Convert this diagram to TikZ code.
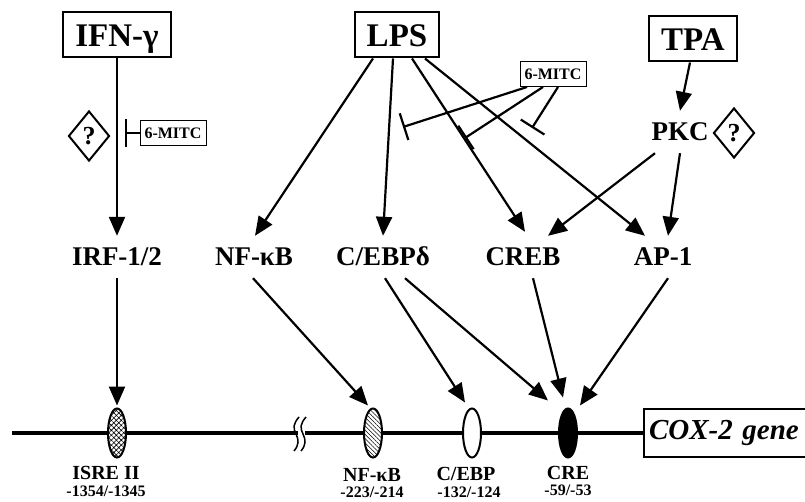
\documentclass[tikz,border=0pt]{standalone}
\usepackage{fontspec}
\setmainfont{Liberation Serif}
\usetikzlibrary{arrows.meta,shapes.geometric,patterns.meta}
\begin{document}
\begin{tikzpicture}[x=1pt,y=-1pt,
    inducer/.style={draw,line width=2pt,font=\fontsize{33}{33}\selectfont\bfseries,
      inner xsep=12pt,inner ysep=11pt,text height=23pt,text depth=0pt},
    factor/.style={font=\fontsize{27}{27}\selectfont\bfseries,
      inner xsep=2pt,inner ysep=12pt,text height=18pt,text depth=0pt},
    drug/.style={draw,line width=1pt,font=\fontsize{16}{16}\selectfont\bfseries,
      minimum width=66pt,minimum height=25pt,inner sep=0pt},
    unknown/.style={diamond,draw,line width=2pt,font=\fontsize{26}{26}\selectfont\bfseries,
      minimum width=41pt,minimum height=50pt,inner sep=0pt},
    site/.style={ellipse,draw,line width=2pt,minimum width=18pt,minimum height=49pt,
      inner sep=0pt,outer sep=3pt},
    sitename/.style={font=\fontsize{20}{20}\selectfont\bfseries,inner sep=0pt},
    sitepos/.style={font=\fontsize{16}{16}\selectfont\bfseries,inner sep=0pt},
    act/.style={-{Triangle[length=19pt,width=16pt]},line width=2.2pt},
    block/.style={-{Bar[width=28pt,length=2.2pt]},line width=2.2pt}]
  \useasboundingbox (0,0) rectangle (805,502);
  % inducers and signalling factors
  \node[inducer] (ifn) at (117,35) {IFN-γ};
  \node[inducer] (lps) at (397,35) {LPS};
  \node[inducer] (tpa) at (693,39) {TPA};
  \node[factor] (pkc) at (680,132) {PKC};
  \node[unknown] (qB) at (734,133) {?};
  \node[unknown] (qA) at (89,136) {?};
  \node[drug] (mitcA) at (173,133) {6-MITC};
  \node[drug] (mitcB) at (553,74) {6-MITC};
  \node[factor] (irf) at (117,257) {IRF-1/2};
  \node[factor] (nfkb) at (254,257) {NF-κB};
  \node[factor] (cebpd) at (383,257) {C/EBPδ};
  \node[factor] (creb) at (523,257) {CREB};
  \node[factor] (ap1) at (663,257) {AP-1};
  \coordinate (inhA) at (125,133);
  \coordinate (inhB1) at (403,127);
  \coordinate (inhB2) at (465,138);
  \coordinate (inhB3) at (532,128);
  % promoter
  \coordinate (dnaL) at (12,433);
  \coordinate (brkA) at (298,433);
  \coordinate (brkB) at (305,433);
  \node[anchor=west,draw,line width=2pt,font=\fontsize{29}{29}\selectfont\bfseries\itshape,
    text width=190pt,inner xsep=5pt,minimum height=48pt] (cox) at (643,433) {COX-2 gene};
  \draw[line width=4pt] (dnaL) -- (brkA) (brkB) -- (cox.west);
  \draw[line width=1.5pt]
    (299,417) .. controls (293,424) and (293,428) .. (296,434) .. controls (299,440) and (299,445) .. (294,451)
    (306,417) .. controls (300,424) and (300,428) .. (303,434) .. controls (306,440) and (306,445) .. (301,451);
  \node[site,preaction={fill=white},pattern={Hatch[angle=45,distance=3.5pt,line width=0.6pt]}] (isre) at (117,433) {};
  \node[site,preaction={fill=white},pattern={Lines[angle=-45,distance=3pt,line width=0.6pt]}] (nfkbsite) at (373,433) {};
  \node[site,fill=white] (cebpsite) at (472,433) {};
  \node[site,fill=black] (cresite) at (568,433) {};
  \node[sitename] (isreN) at (106,473) {ISRE II};
  \node[sitepos] (isreP) at (106,491) {-1354/-1345};
  \node[sitename] (nfkbN) at (372,475) {NF-κB};
  \node[sitepos] (nfkbP) at (372,492) {-223/-214};
  \node[sitename] (cebpN) at (466,474) {C/EBP};
  \node[sitepos] (cebpP) at (469,492) {-132/-124};
  \node[sitename] (creN) at (568,473) {CRE};
  \node[sitepos] (creP) at (568,490) {-59/-53};
  % IFN-gamma branch
  \draw[act] (ifn) -- (irf);
  \draw[block] (mitcA.west) -- (inhA);
  % LPS branch
  \draw[act] ([xshift=-24pt]lps.south) -- ([xshift=1pt]nfkb.north);
  \draw[act] ([xshift=-4pt]lps.south) -- (cebpd.north);
  \draw[act] ([xshift=15pt]lps.south) -- ([xshift=2pt,yshift=4pt]creb.north);
  \draw[act] ([xshift=28pt]lps.south) -- ([xshift=-18pt]ap1.north);
  \draw[block] ([xshift=-26pt]mitcB.south) -- (inhB1);
  \draw[block] ([xshift=-10pt]mitcB.south) -- (inhB2);
  \draw[block] ([xshift=5pt]mitcB.south) -- (inhB3);
  % TPA branch
  \draw[act] ([xshift=-3pt]tpa.south) -- (pkc.north);
  \draw[act] ([xshift=-25pt]pkc.south) -- ([xshift=25pt]creb.north);
  \draw[act] (pkc.south) -- ([xshift=5pt]ap1.north);
  % factors to binding sites
  \draw[act] (irf) -- (isre);
  \draw[act] ([xshift=-1pt]nfkb.south) -- ([xshift=-5pt]nfkbsite.north);
  \draw[act] ([xshift=2pt]cebpd.south) -- ([xshift=-7pt,yshift=3pt]cebpsite.north);
  \draw[act] ([xshift=22pt]cebpd.south) -- ([xshift=-20pt,yshift=5pt]cresite.north);
  \draw[act] ([xshift=10pt]creb.south) -- ([xshift=-5pt,yshift=8pt]cresite.north);
  \draw[act] ([xshift=5pt]ap1.south) -- ([xshift=12pt]cresite.north);
\end{tikzpicture}
\end{document}
